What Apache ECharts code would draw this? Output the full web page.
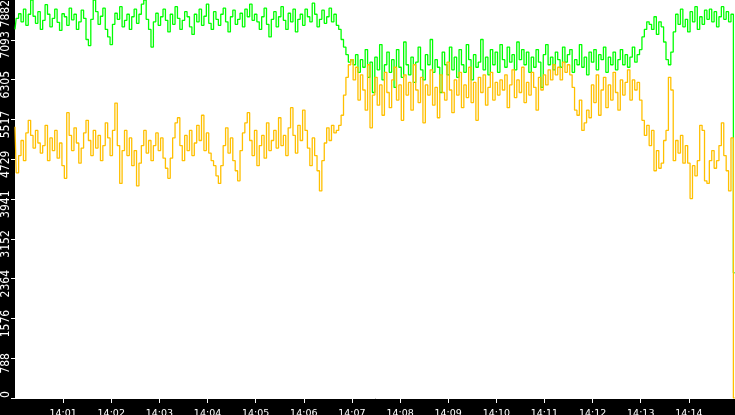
<script src="https://cdnjs.cloudflare.com/ajax/libs/echarts/6.0.0/echarts.min.js"></script>

<div id="mainChart"></div>

<style>
    html, body {
        margin: 0;
        padding: 0;
        background-color: #000;
    }
    #mainChart {
        width: 735px;
        height: 415px;
    }
</style>

<script>
    // one sample every 3 seconds, starting at 14:00:00
    var stepSec = 3;

    var xTickLabels = ['14:01','14:02','14:03','14:04','14:05','14:06','14:07',
                       '14:08','14:09','14:10','14:11','14:12','14:13','14:14'];
    var yTickLabels = ['0','788','1576','2364','3152','3941','4729','5517','6305','7093','7882'];

    var greenValues = [
        7300,7520,7610,7450,7700,7380,7600,7882,7560,7420,
        7650,7300,7480,7790,7600,7350,7520,7700,7440,7280,
        7610,7550,7380,7720,7490,7600,7300,7450,7680,7520,
        7100,6980,7500,7880,7650,7400,7560,7720,7300,7150,
        7000,7400,7620,7500,7750,7350,7480,7600,7300,7550,
        7700,7420,7600,7800,7882,7500,7300,6950,7450,7620,
        7380,7550,7700,7480,7250,7600,7400,7750,7520,7300,
        7480,7650,7550,7350,7200,7600,7450,7700,7380,7560,
        7800,7420,7300,7650,7500,7380,7600,7720,7450,7250,
        7550,7680,7400,7500,7620,7350,7700,7550,7800,7480,
        7600,7450,7300,7550,7720,7400,7150,7500,7650,7350,
        7550,7750,7480,7300,7620,7450,7700,7250,7500,7600,
        7380,7700,7550,7450,7820,7600,7350,7500,7680,7420,
        7550,7720,7450,7600,7380,7300,7100,6950,6800,6650,
        6700,6600,6800,6450,6700,6550,6900,6350,6650,6050,
        6750,6500,7000,6300,6600,6850,6450,6700,6150,6900,
        6550,6350,7050,6600,6400,6750,6250,6650,6950,6500,
        6300,6800,6600,7100,6450,6700,6550,6050,6850,6600,
        6400,6950,6500,6750,6350,6900,6600,6450,7000,6700,
        6300,6800,6550,6650,7100,6500,6750,6400,6900,6600,
        6850,6450,7000,6700,6550,6950,6650,6800,6500,7050,
        6700,6900,6600,6850,6450,6750,6550,6900,6650,6150,
        6800,7000,6600,6750,6500,6850,6700,6550,6950,6650,
        6800,6900,6450,6700,6600,7000,6550,6750,6400,6850,
        6650,6900,6500,6800,6700,6950,6450,6750,6600,6850,
        6500,6700,6900,6600,6800,6550,6750,6950,6650,6800,
        6900,7150,7300,7450,7400,7300,7550,7200,7450,7350,
        7050,6700,6600,6850,7250,7600,7400,7700,7350,7500,
        7250,7650,7450,7750,7300,7550,7400,7680,7500,7700,
        7450,7650,7350,7550,7750,7500,7650,7450,7600,2480
    ];

    var orangeValues = [
        5370,4460,4800,5100,4700,5250,5500,5200,4950,5300,
        5050,4850,5000,5400,4700,5150,4900,5300,4750,5050,
        4600,4350,5650,5200,4900,5350,5050,4650,4950,5250,
        5500,5100,4800,5300,4950,5200,4700,5000,5450,5150,
        4800,5300,5840,5000,4250,4900,5300,4800,5150,4600,
        4900,4200,4650,5000,5300,4850,5100,4700,5000,5250,
        4900,5150,4750,4550,4350,4750,5150,5450,5550,5000,
        4700,5200,4900,5300,4800,5050,5400,5100,5600,4900,
        5250,4850,4700,4600,4400,4250,4600,5000,5350,4850,
        5150,4700,4500,4300,4900,5250,5450,5650,5100,4800,
        5300,4600,5000,5200,4750,5450,4900,5100,5300,4950,
        5550,5000,5200,4800,5350,5750,5200,4850,5400,5100,
        5700,5300,4950,4600,5150,4800,4500,4100,4700,5050,
        5350,5100,5400,5250,5300,5400,5600,6000,6350,6600,
        6700,6300,6550,5900,6400,6100,5700,6600,5350,6000,
        6350,5800,6200,5600,6450,6050,5750,6300,6550,5900,
        6200,5500,6400,6000,6250,5700,6600,6100,5850,6350,
        5450,6200,6000,6500,5800,6150,5550,6400,6050,5900,
        6650,6100,5650,6300,6000,6450,5750,6200,5950,6550,
        5850,6250,5500,6350,6050,6400,5800,6150,6450,5900,
        6250,6000,6300,6100,6400,5750,6200,6500,5950,6300,
        6050,6550,5850,6250,6000,6450,6150,5700,6350,6100,
        6400,6200,6500,6300,6600,6400,6550,6300,6650,6450,
        6600,6400,6150,5700,5600,5900,5300,5450,5700,5550,
        6200,5850,6400,5600,6100,6350,5750,6200,5900,6450,
        6050,5700,6300,6000,6250,6500,5900,6300,6100,6250,
        5900,5500,5200,5400,5000,5300,4500,4900,4550,4650,
        5100,5300,6350,6100,4700,5100,4850,5200,4650,5000,
        4650,3950,4600,4400,4700,5400,5300,4300,4250,4700,
        4900,4550,4700,5000,5450,4800,4500,4100,5150,0
    ];

    var labelFont = "'Liberation Sans Narrow', 'DejaVu Sans Condensed', sans-serif";

    function toPoints(values) {
        return values.map(function (v, i) { return [i * stepSec, v]; });
    }

    // rotated y labels sit a little below their ticks, as in the original
    function yLabel(v) {
        var k = Math.round(v / 788.2);
        if (k === 0) return '  ' + yTickLabels[0];
        if (k >= yTickLabels.length - 1) return '';
        return yTickLabels[k] + '   ';
    }

    // top label is drawn by a twin axis so it is not dropped for touching 7093
    function yTopLabel(v) {
        var k = Math.round(v / 788.2);
        return k === yTickLabels.length - 1 ? yTickLabels[k] : '';
    }

    var chart = echarts.init(document.getElementById('mainChart'));

    var option = {
        backgroundColor: '#000',
        animation: false,
        grid: {
            left: 15,
            top: 0,
            right: -2,
            bottom: 17,
            containLabel: false,
            outerBoundsMode: 'none',
            show: true,
            backgroundColor: '#fff',
            borderWidth: 0
        },
        xAxis: {
            type: 'value',
            min: 0,
            max: 900,
            interval: 60,
            splitLine: { show: false },
            axisLine: { lineStyle: { color: '#fff', width: 1 } },
            axisTick: { length: 5, lineStyle: { color: '#fff' } },
            axisLabel: {
                color: '#fff',
                fontFamily: 'DejaVu Sans',
                fontSize: 9.5,
                margin: 6,
                showMinLabel: false,
                showMaxLabel: false,
                formatter: function (v) {
                    var k = Math.round(v / 60);
                    return (k >= 1 && k <= xTickLabels.length) ? xTickLabels[k - 1] : '';
                }
            }
        },
        yAxis: [
            {
                type: 'value',
                min: 0,
                max: 7882,
                interval: 788.2,
                splitLine: { show: false },
                axisLine: { show: false },
                axisTick: { show: true, length: 4, lineStyle: { color: '#fff' } },
                axisLabel: {
                    color: '#fff',
                    fontFamily: labelFont,
                    fontSize: 12,
                    rotate: 90,
                    margin: 9,
                    align: 'center',
                    verticalAlign: 'middle',
                    showMinLabel: true,
                    showMaxLabel: false,
                    formatter: yLabel
                }
            },
            {
                type: 'value',
                position: 'left',
                min: 0,
                max: 7882,
                interval: 788.2,
                splitLine: { show: false },
                axisLine: { show: false },
                axisTick: { show: false },
                axisLabel: {
                    color: '#fff',
                    fontFamily: labelFont,
                    fontSize: 12,
                    rotate: 90,
                    margin: 9,
                    align: 'right',
                    verticalAlign: 'middle',
                    showMinLabel: false,
                    showMaxLabel: true,
                    formatter: yTopLabel
                }
            }
        ],
        series: [
            {
                name: 'green',
                type: 'line',
                data: toPoints(greenValues),
                showSymbol: false,
                step: 'middle',
                lineStyle: { color: '#00ff00', width: 1.3 },
                z: 2
            },
            {
                name: 'orange',
                type: 'line',
                data: toPoints(orangeValues),
                showSymbol: false,
                step: 'middle',
                lineStyle: { color: '#ffc000', width: 1.3 },
                z: 3
            }
        ]
    };

    chart.setOption(option);
</script>
